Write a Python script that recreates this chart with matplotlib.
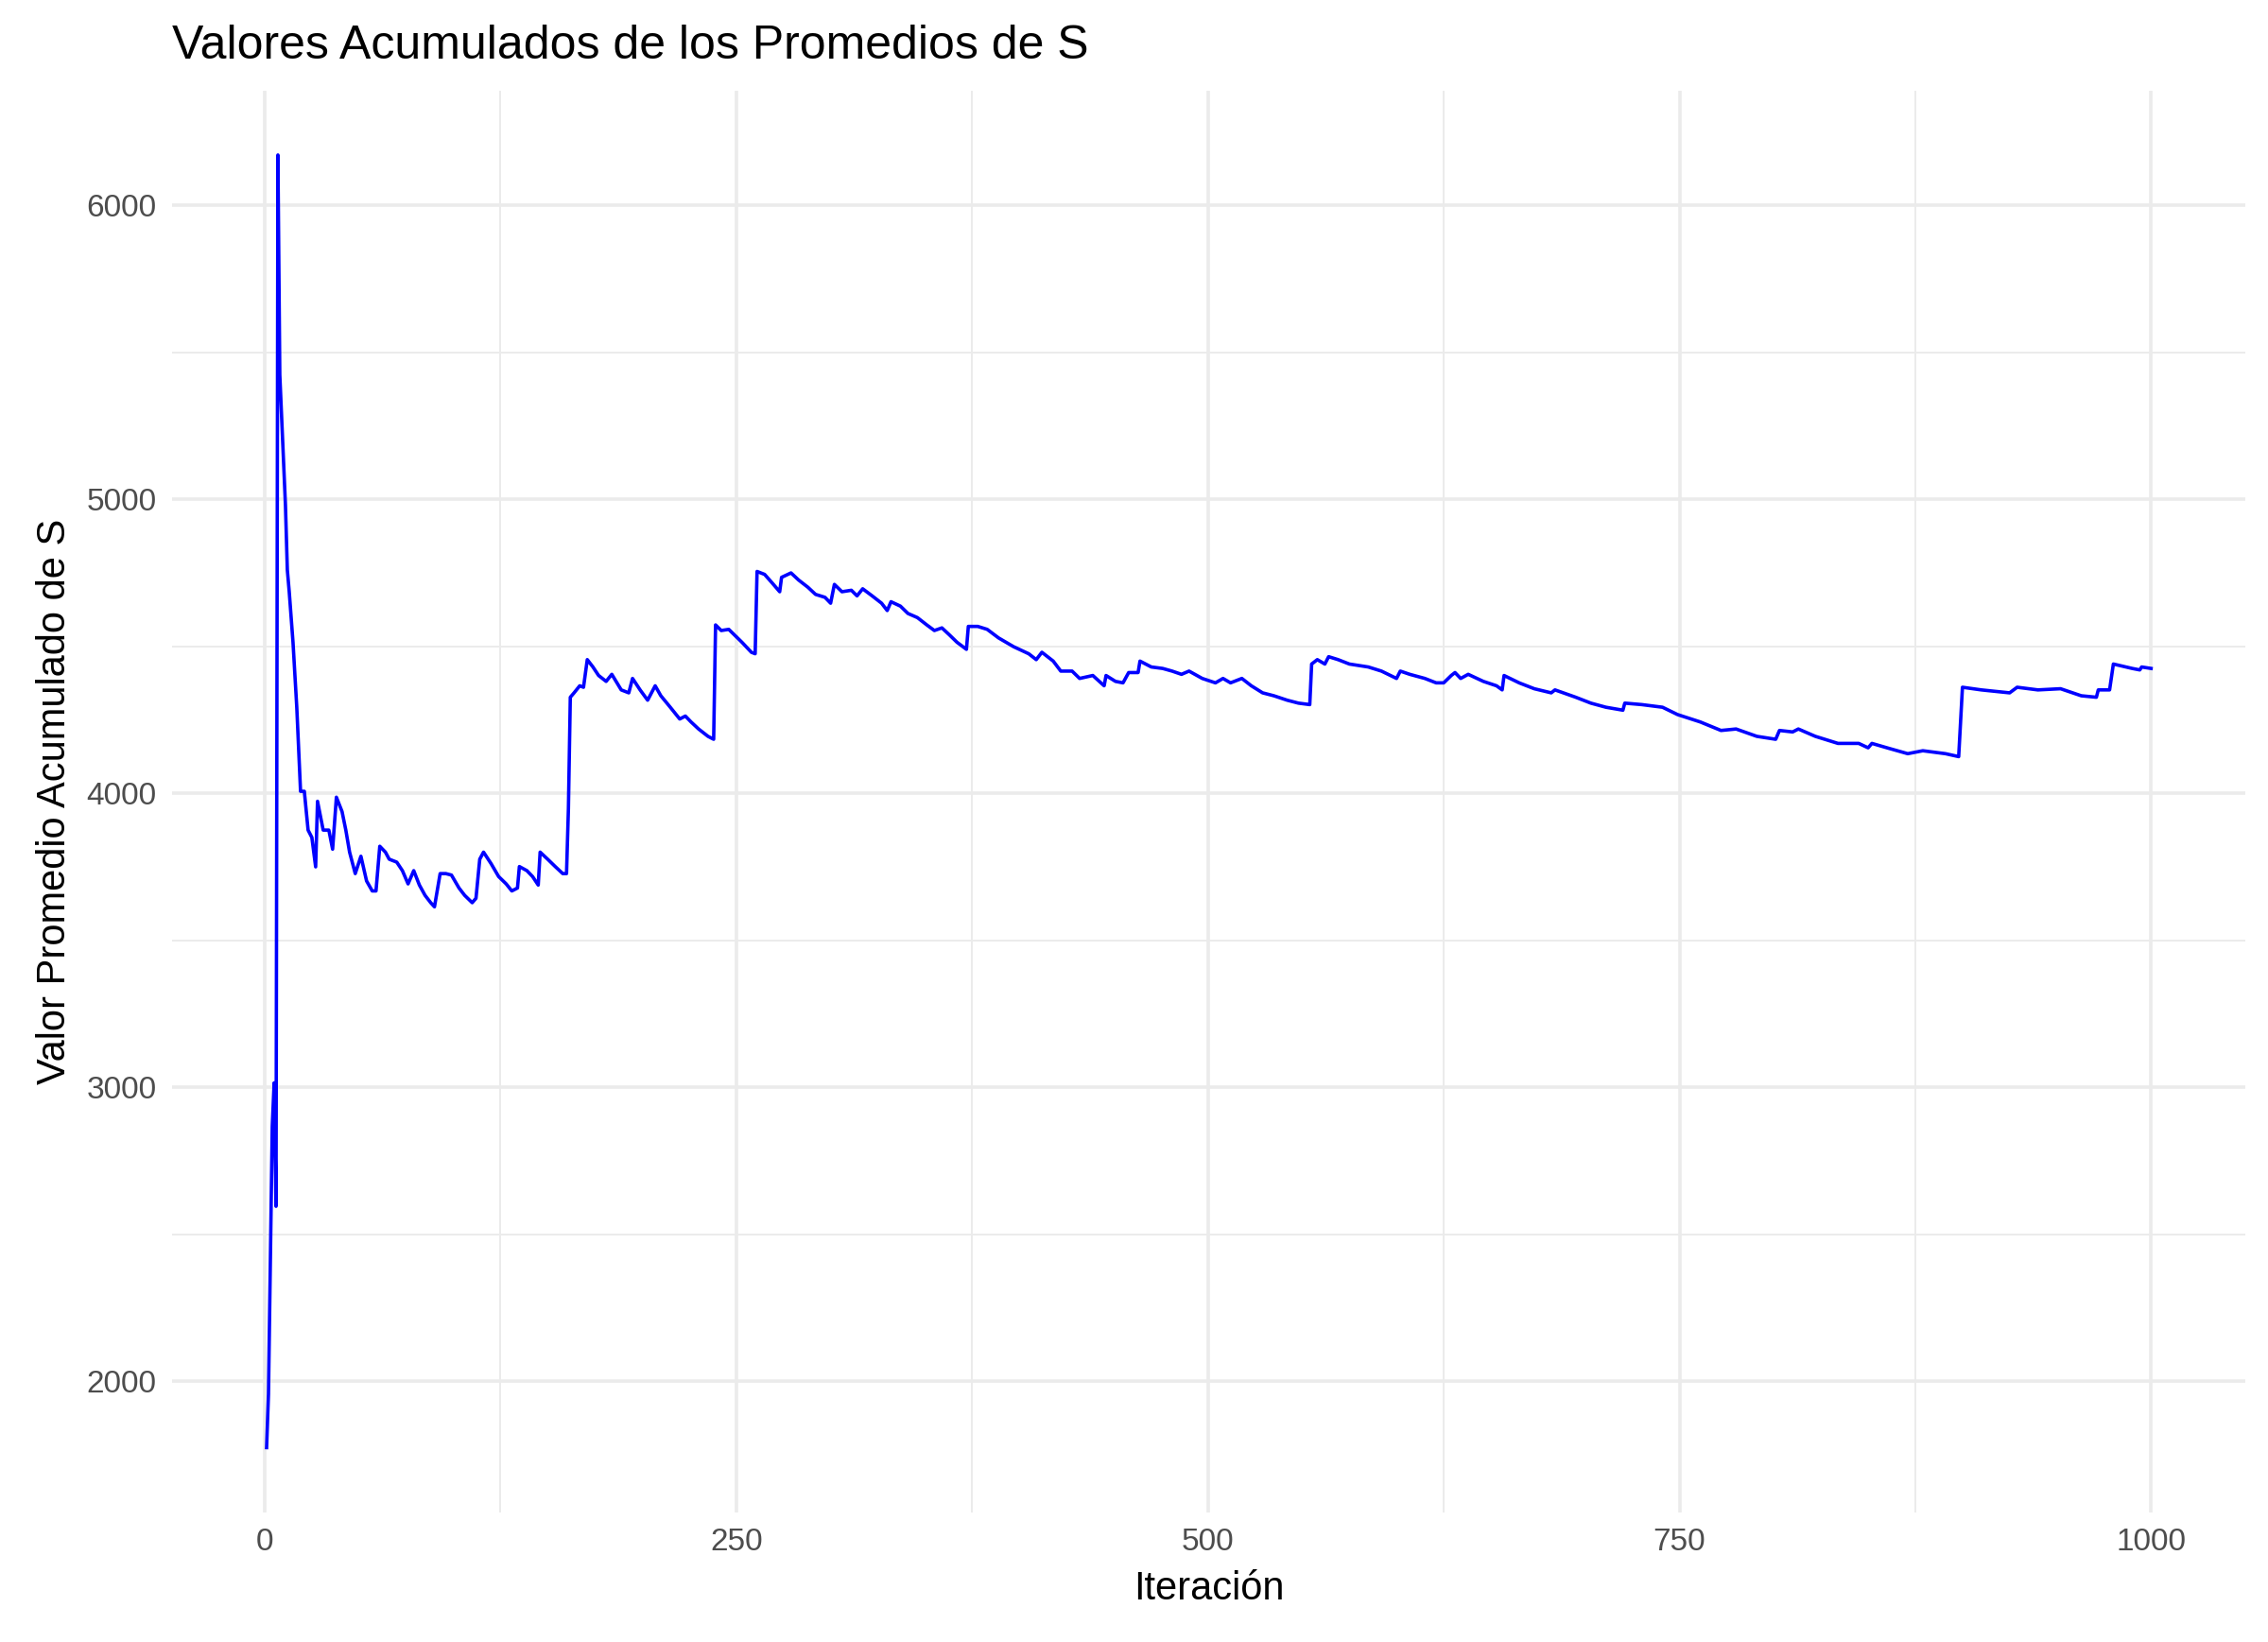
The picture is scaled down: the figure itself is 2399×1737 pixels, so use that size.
import matplotlib
matplotlib.use("Agg")
import matplotlib.pyplot as plt
from matplotlib.ticker import MultipleLocator

# cumulative average of S, vertices
iteracion = [1, 2, 4, 5, 6, 7, 8, 11, 12, 13, 15, 17, 19, 21, 23, 25, 27, 28, 31, 34,
             36, 38, 41, 43, 45, 48, 51, 54, 57, 59, 61, 64, 66, 70, 73, 76, 79, 82, 85, 88,
             90, 93, 96, 99, 103, 106, 110, 112, 114, 116, 120, 124, 128, 131, 134, 135, 139, 142, 145, 146,
             150, 154, 158, 160, 161, 162, 164, 167, 169, 171, 174, 177, 181, 184, 189, 193, 195, 199, 203, 207,
             210, 215, 220, 223, 226, 230, 235, 238, 239, 242, 246, 249, 253, 258, 260, 261, 265, 269, 273, 274,
             279, 283, 288, 292, 297, 300, 302, 306, 311, 314, 317, 322, 327, 330, 332, 337, 341, 346, 351, 355,
             359, 363, 367, 372, 373, 378, 383, 389, 397, 405, 409, 412, 418, 422, 428, 432, 439, 445, 446, 451,
             455, 458, 463, 464, 470, 476, 481, 486, 490, 497, 504, 508, 512, 518, 523, 529, 535, 542, 548, 554,
             555, 558, 562, 564, 569, 575, 585, 592, 600, 602, 607, 615, 621, 625, 629, 631, 634, 638, 646, 653,
             656, 657, 665, 673, 682, 684, 695, 703, 711, 720, 721, 730, 741, 749, 761, 772, 780, 791, 801, 803,
             810, 813, 822, 834, 845, 850, 852, 860, 871, 879, 891, 898, 900, 910, 925, 929, 940, 952, 963, 971,
             972, 978, 980, 990, 994, 995, 1000]
promedio = [1774, 1956, 2866, 3015, 2595, 6172, 5424, 4980, 4760, 4686, 4514, 4293, 4007, 4007, 3875, 3850, 3750, 3973, 3875, 3875,
            3810, 3987, 3938, 3875, 3800, 3727, 3786, 3702, 3668, 3668, 3820, 3800, 3776, 3766, 3737, 3692, 3737, 3688, 3653, 3628,
            3614, 3727, 3727, 3722, 3678, 3653, 3628, 3643, 3776, 3800, 3761, 3717, 3692, 3668, 3678, 3751, 3737, 3717, 3688, 3800,
            3776, 3751, 3727, 3727, 3948, 4327, 4342, 4366, 4361, 4455, 4430, 4401, 4381, 4405, 4352, 4342, 4391, 4352, 4317, 4366,
            4332, 4293, 4253, 4263, 4243, 4219, 4194, 4184, 4573, 4554, 4558, 4539, 4514, 4480, 4475, 4755, 4745, 4716, 4686, 4735,
            4750, 4726, 4701, 4677, 4667, 4647, 4711, 4686, 4691, 4672, 4696, 4672, 4647, 4622, 4652, 4637, 4612, 4598, 4573, 4554,
            4563, 4539, 4514, 4490, 4568, 4568, 4558, 4529, 4499, 4475, 4455, 4480, 4450, 4416, 4416, 4391, 4401, 4366, 4401, 4381,
            4376, 4411, 4411, 4450, 4430, 4425, 4416, 4405, 4416, 4391, 4376, 4391, 4376, 4391, 4366, 4342, 4332, 4317, 4307, 4302,
            4440, 4455, 4440, 4465, 4455, 4440, 4430, 4416, 4391, 4416, 4405, 4391, 4376, 4376, 4401, 4411, 4391, 4405, 4381, 4366,
            4352, 4401, 4376, 4356, 4342, 4352, 4327, 4307, 4293, 4283, 4307, 4302, 4293, 4268, 4243, 4214, 4219, 4194, 4184, 4214,
            4209, 4219, 4194, 4170, 4170, 4155, 4170, 4155, 4135, 4145, 4135, 4125, 4361, 4352, 4342, 4361, 4352, 4356, 4332, 4327,
            4352, 4352, 4440, 4425, 4420, 4430, 4425]

plt.rcParams["font.family"] = ["Liberation Sans", "DejaVu Sans"]

fig = plt.figure(figsize=(2399 / 200, 1737 / 200), dpi=200)
ax = fig.add_axes([0.076, 0.079, 0.914, 0.866])
ax.plot(iteracion, promedio, color="blue", linewidth=1.3)

ax.set_xlim(-48.95, 1049.95)
ax.set_ylim(1554, 6392)
ax.xaxis.set_major_locator(MultipleLocator(250))
ax.xaxis.set_minor_locator(MultipleLocator(125))
ax.yaxis.set_major_locator(MultipleLocator(1000))
ax.yaxis.set_minor_locator(MultipleLocator(500))
ax.grid(which="major", color="#EBEBEB", linewidth=1.3)
ax.grid(which="minor", color="#EBEBEB", linewidth=0.7)
ax.set_axisbelow(True)
for s in ax.spines.values():
    s.set_visible(False)
ax.tick_params(which="both", length=0, labelsize=12, labelcolor="#4D4D4D", pad=6)

ax.set_xlabel("Iteración", fontsize=15, labelpad=5)
ax.set_ylabel("Valor Promedio Acumulado de S", fontsize=15, labelpad=5)
ax.set_title("Valores Acumulados de los Promedios de S", fontsize=18, loc="left", x=0.0, pad=12)

fig.savefig("out.png", dpi=200)
